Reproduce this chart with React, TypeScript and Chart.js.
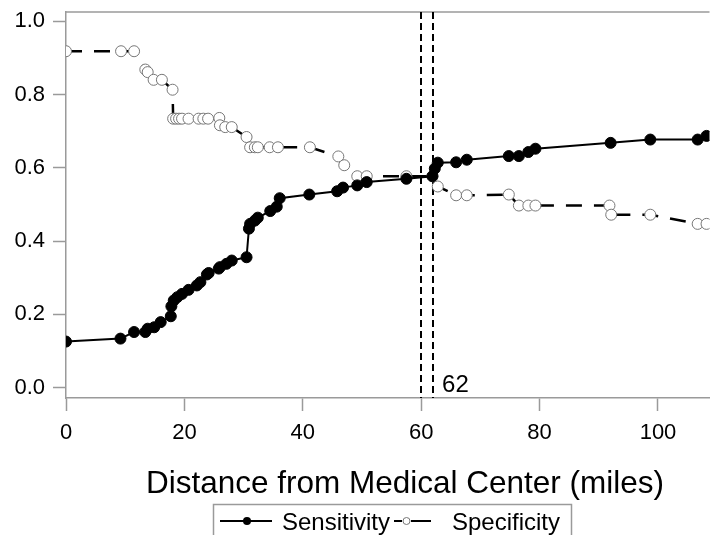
import React, { useEffect, useRef } from "react";
import { Chart, registerables } from "chart.js";

Chart.register(...registerables);

// ---- data ----
const sensDistance = [
  0, 9.2, 11.5, 13.4, 13.8, 14.9, 16.0, 17.7, 17.8, 18.2, 18.8, 19.6, 20.7, 22.1, 22.7, 23.8, 24.1,
  25.8, 26.0, 27.1, 28.0, 30.5, 30.9, 31.1, 31.9, 32.4, 34.5, 35.6, 36.1, 41.1, 45.8, 46.8, 49.2,
  50.8, 57.5, 61.9, 62.3, 62.8, 65.9, 67.7, 74.8, 76.5, 78.1, 79.3, 92.0, 98.7, 106.7, 108.2,
];
const sensValue = [
  0.126, 0.134, 0.152, 0.152, 0.161, 0.165, 0.179, 0.195, 0.222, 0.238, 0.247, 0.256, 0.267, 0.279,
  0.288, 0.309, 0.313, 0.325, 0.329, 0.338, 0.347, 0.356, 0.434, 0.447, 0.456, 0.464, 0.482, 0.494,
  0.517, 0.527, 0.536, 0.546, 0.552, 0.561, 0.57, 0.577, 0.598, 0.614, 0.615, 0.622, 0.632, 0.632,
  0.643, 0.652, 0.668, 0.677, 0.677, 0.687,
];
const specDistance = [
  0, 9.3, 11.5, 13.4, 13.8, 14.8, 16.2, 18.0, 18.1, 18.6, 19.1, 19.6, 20.7, 22.4, 23.2, 24.0, 25.9,
  26.0, 26.9, 28.0, 30.5, 31.1, 31.9, 32.4, 34.4, 35.8, 41.2, 46.0, 47.0, 49.2, 50.8, 57.5, 61.9,
  62.8, 65.9, 67.7, 74.8, 76.5, 78.1, 79.3, 91.8, 92.1, 98.7, 106.7, 108.2,
];
const specValue = [
  0.918, 0.918, 0.918, 0.868, 0.861, 0.84, 0.84, 0.813, 0.734, 0.734, 0.734, 0.734, 0.734, 0.734,
  0.734, 0.734, 0.736, 0.716, 0.711, 0.711, 0.684, 0.656, 0.656, 0.656, 0.656, 0.656, 0.656, 0.631,
  0.607, 0.577, 0.577, 0.577, 0.577, 0.549, 0.525, 0.525, 0.527, 0.497, 0.497, 0.497, 0.497, 0.472,
  0.472, 0.447, 0.447,
];
const xTickValues = [0, 20, 40, 60, 80, 100];
const yTickValues = [0, 0.2, 0.4, 0.6, 0.8, 1.0];
const cutoffLines = [60, 62];
const cutoffLabel = "62";
const seriesLabels = ["Sensitivity", "Specificity"];
const xAxisTitle = "Distance from Medical Center (miles)";

const FONT = '"Liberation Sans", Arial, sans-serif';
const AXIS_GRAY = "#9a9a9a";

const overlayPlugin = {
  id: "overlay",
  beforeDatasetsDraw(chart: any) {
    const { ctx, chartArea, scales } = chart;
    const { top, bottom, left, right } = chartArea;
    const x = scales.x;
    ctx.save();
    // top frame line
    ctx.strokeStyle = AXIS_GRAY;
    ctx.lineWidth = 1.5;
    ctx.beginPath();
    ctx.moveTo(left, top);
    ctx.lineTo(right, top);
    ctx.stroke();
    // cutoff reference lines
    ctx.strokeStyle = "#000";
    ctx.lineWidth = 2;
    ctx.setLineDash([7, 4]);
    cutoffLines.forEach((v) => {
      const px = Math.round(x.getPixelForValue(v));
      ctx.beginPath();
      ctx.moveTo(px, top);
      ctx.lineTo(px, bottom);
      ctx.stroke();
    });
    ctx.setLineDash([]);
    ctx.fillStyle = "#000";
    ctx.font = `24px ${FONT}`;
    ctx.textBaseline = "alphabetic";
    ctx.textAlign = "left";
    ctx.fillText(cutoffLabel, x.getPixelForValue(cutoffLines[1]) + 9, bottom - 6);
    ctx.restore();
  },
  afterDraw(chart: any) {
    const { ctx } = chart;
    ctx.save();
    // axis title
    ctx.fillStyle = "#000";
    ctx.font = `31.5px ${FONT}`;
    ctx.textAlign = "center";
    ctx.textBaseline = "alphabetic";
    ctx.fillText(xAxisTitle, 405, 493);
    // legend box
    ctx.strokeStyle = AXIS_GRAY;
    ctx.lineWidth = 1.5;
    ctx.strokeRect(213.5, 504.5, 358, 45);
    const ly = 521;
    // sensitivity sample
    ctx.strokeStyle = "#000";
    ctx.lineWidth = 2;
    ctx.beginPath();
    ctx.moveTo(220, ly);
    ctx.lineTo(272, ly);
    ctx.stroke();
    ctx.fillStyle = "#000";
    ctx.beginPath();
    ctx.arc(247, ly, 4, 0, Math.PI * 2);
    ctx.fill();
    // specificity sample
    ctx.beginPath();
    ctx.moveTo(394, ly);
    ctx.lineTo(402, ly);
    ctx.moveTo(411, ly);
    ctx.lineTo(431, ly);
    ctx.stroke();
    ctx.fillStyle = "#fff";
    ctx.strokeStyle = "#777";
    ctx.lineWidth = 1;
    ctx.beginPath();
    ctx.arc(406.5, ly, 3.5, 0, Math.PI * 2);
    ctx.fill();
    ctx.stroke();
    // texts
    ctx.fillStyle = "#000";
    ctx.font = `24px ${FONT}`;
    ctx.textAlign = "left";
    ctx.fillText(seriesLabels[0], 282, 530);
    ctx.fillText(seriesLabels[1], 452, 530);
    ctx.restore();
  },
};

export default function App() {
  const canvasRef = useRef<HTMLCanvasElement | null>(null);

  useEffect(() => {
    const canvas = canvasRef.current;
    if (!canvas) return;
    const sensData = sensDistance.map((d, i) => ({ x: d, y: sensValue[i] }));
    const specData = specDistance.map((d, i) => ({ x: d, y: specValue[i] }));

    const chart = new Chart(canvas, {
      type: "scatter",
      data: {
        datasets: [
          {
            label: seriesLabels[0],
            data: sensData,
            showLine: true,
            borderColor: "#000",
            borderWidth: 2,
            pointRadius: 5.5,
            pointBackgroundColor: "#000",
            pointBorderColor: "#000",
            pointBorderWidth: 1,
            tension: 0,
          },
          {
            label: seriesLabels[1],
            data: specData,
            showLine: true,
            borderColor: "#000",
            borderWidth: 2.5,
            borderDash: [16, 12],
            pointRadius: 5.5,
            pointBackgroundColor: "#fff",
            pointBorderColor: "#777",
            pointBorderWidth: 1,
            tension: 0,
          },
        ],
      },
      options: {
        responsive: false,
        animation: false,
        devicePixelRatio: 1,
        layout: { padding: { top: 12, right: 0, bottom: 37, left: 0 } },
        plugins: {
          legend: { display: false },
          tooltip: { enabled: false },
        },
        scales: {
          x: {
            type: "linear",
            min: 0,
            max: 108.7,
            afterFit: (scale: any) => {
              scale.height = 100;
              scale.paddingLeft = 0;
              scale.paddingRight = 0;
            },
            afterBuildTicks: (scale: any) => {
              scale.ticks = xTickValues.map((v) => ({ value: v }));
            },
            grid: {
              drawOnChartArea: false,
              drawTicks: true,
              tickLength: 13,
              tickWidth: 1.5,
              tickColor: AXIS_GRAY,
              color: AXIS_GRAY,
            },
            border: { display: true, color: AXIS_GRAY, width: 1.5 },
            ticks: {
              padding: 9,
              color: "#000",
              font: { family: FONT, size: 22 },
              maxRotation: 0,
              callback: (v: any) => String(v),
            },
            title: { display: false, text: xAxisTitle },
          },
          y: {
            type: "linear",
            min: -0.028,
            max: 1.025,
            afterFit: (scale: any) => {
              scale.width = 66;
              scale.paddingTop = 0;
              scale.paddingBottom = 0;
            },
            afterBuildTicks: (scale: any) => {
              scale.ticks = yTickValues.map((v) => ({ value: v }));
            },
            grid: {
              drawOnChartArea: false,
              drawTicks: true,
              tickLength: 13,
              tickWidth: 1.5,
              tickColor: AXIS_GRAY,
              color: AXIS_GRAY,
            },
            border: { display: true, color: AXIS_GRAY, width: 1.5 },
            ticks: {
              padding: 8,
              color: "#000",
              font: { family: FONT, size: 22 },
              callback: (v: any) => Number(v).toFixed(1),
            },
          },
        },
      },
      plugins: [overlayPlugin],
    });
    return () => chart.destroy();
  }, []);

  return (
    <div style={{ position: "fixed", left: 0, top: 0, width: 716, height: 535, background: "#fff" }}>
      <canvas ref={canvasRef} width={716} height={535} style={{ display: "block" }} />
    </div>
  );
}
